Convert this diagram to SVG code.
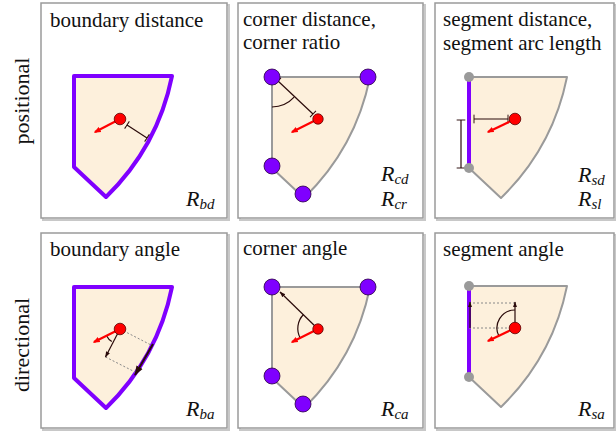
<svg xmlns="http://www.w3.org/2000/svg" width="616" height="433" viewBox="0 0 616 433">
<style>
.bg{fill:#fff}
.panel{fill:#fff;stroke:#9a9a9a;stroke-width:1.5}
.shadow{fill:none;stroke:#c8c8c8;stroke-width:2}
.title{font-family:"Liberation Serif","Times New Roman",serif;font-size:21px;fill:#111}
.side{font-family:"Liberation Serif","Times New Roman",serif;font-size:22px;fill:#111}
.R{font-family:"Liberation Serif","Times New Roman",serif;font-style:italic;font-size:22px;fill:#111}
.sub{font-size:15px}
.region{fill:#fdf0dc;stroke:#9a9a9a;stroke-width:2;stroke-linejoin:round}
.regionP{fill:#fdf0dc;stroke:#7f00ff;stroke-width:4;stroke-linejoin:round}
.seg{stroke:#7f00ff;stroke-width:4;fill:none}
.dot{fill:#ff0000;stroke:#5a0000;stroke-width:0.8}
.corner{fill:#7f00ff;stroke:#2a0040;stroke-width:0.8}
.gray{fill:#9a9a9a}
.vel{stroke:#ff0000;stroke-width:2.2;fill:none;marker-end:url(#ar)}
.dk{stroke:#2a0a0a;stroke-width:1.2;fill:none}
.dist{stroke:#2a0a0a;stroke-width:1.2;fill:none;marker-start:url(#tk);marker-end:url(#tk)}
.dkar{stroke:#2a0a0a;stroke-width:1.2;fill:none;marker-end:url(#ak)}
.dot2{stroke:#888;stroke-width:1;stroke-dasharray:2 2;fill:none}
</style>
<defs>
<marker id="ar" viewBox="0 0 10 10" refX="8" refY="5" markerWidth="3.2" markerHeight="3.2" orient="auto"><path d="M0,1 L10,5 L0,9 z" fill="#ff0000"/></marker>
<marker id="ak" viewBox="0 0 10 10" refX="9" refY="5" markerWidth="5" markerHeight="5" orient="auto"><path d="M0,1.5 L10,5 L0,8.5 z" fill="#2a0a0a"/></marker>
<marker id="tk" viewBox="-1 -5 2 10" refX="0" refY="0" markerWidth="1.6" markerHeight="8" orient="auto" markerUnits="strokeWidth"><path d="M0,-4.5 V4.5" stroke="#2a0a0a" stroke-width="1"/></marker>
<path id="shape" d="M0,0 H98 A233,233 0 0 1 32,121 L0,91 Z"/>
</defs>
<rect class="bg" width="616" height="433"/>

<g id="row-labels">
<text class="side" transform="translate(29,101) rotate(-90)" text-anchor="middle">positional</text>
<text class="side" transform="translate(29,345) rotate(-90)" text-anchor="middle">directional</text>
</g>

<g id="panel-boundary-distance">
<rect class="shadow" x="43" y="5" width="186" height="215"/>
<rect class="panel" x="41" y="3" width="186" height="215"/>
<text class="title" x="50" y="27">boundary distance</text>
<g transform="translate(74,76)">
<use href="#shape" class="regionP"/>
<line class="vel" x1="46" y1="43" x2="21" y2="56"/>
<line class="dist" x1="53" y1="49" x2="73" y2="62"/>
<circle class="dot" cx="46" cy="43" r="5.8"/>
</g>
<text class="R" x="186" y="206">R<tspan class="sub" dy="3">bd</tspan></text>
</g>

<g id="panel-corner-distance">
<rect class="shadow" x="240" y="5" width="185" height="215"/>
<rect class="panel" x="238" y="3" width="185" height="215"/>
<text class="title" x="243" y="26">corner distance,</text>
<text class="title" x="243" y="49">corner ratio</text>
<g transform="translate(272,77)">
<use href="#shape" class="region"/>
<path class="dk" d="M0,30 A30,30 0 0 0 22.1,20.2"/>
<line class="dist" x1="6" y1="4" x2="41" y2="37"/>
<line class="vel" x1="46" y1="42" x2="20" y2="55"/>
<circle class="dot" cx="46" cy="42" r="5.2"/>
<circle class="corner" cx="0" cy="0" r="8"/>
<circle class="corner" cx="96" cy="0" r="8"/>
<circle class="corner" cx="0" cy="89" r="8"/>
<circle class="corner" cx="31" cy="117" r="8"/>
</g>
<text class="R" x="381" y="181">R<tspan class="sub" dy="3">cd</tspan></text>
<text class="R" x="381" y="206">R<tspan class="sub" dy="3">cr</tspan></text>
</g>

<g id="panel-segment-distance">
<rect class="shadow" x="437" y="5" width="179" height="215"/>
<rect class="panel" x="435" y="3" width="179" height="215"/>
<text class="title" x="443" y="26">segment distance,</text>
<text class="title" x="443" y="50">segment arc length</text>
<g transform="translate(469,77)">
<use href="#shape" class="region"/>
<line class="seg" x1="0" y1="0" x2="0" y2="91"/>
<line class="dist" x1="-8" y1="43" x2="-8" y2="91"/>
<line class="dist" x1="5" y1="42" x2="39" y2="42"/>
<line class="vel" x1="46" y1="42" x2="19" y2="55"/>
<circle class="dot" cx="46" cy="42" r="5.8"/>
<circle class="gray" cx="0" cy="0" r="5"/>
<circle class="gray" cx="0" cy="91" r="5"/>
</g>
<text class="R" x="578" y="182">R<tspan class="sub" dy="3">sd</tspan></text>
<text class="R" x="578" y="206">R<tspan class="sub" dy="3">sl</tspan></text>
</g>

<g id="panel-boundary-angle">
<rect class="shadow" x="43" y="235" width="186" height="195"/>
<rect class="panel" x="41" y="233" width="186" height="195"/>
<text class="title" x="50" y="256">boundary angle</text>
<g transform="translate(74,287)">
<use href="#shape" class="regionP"/>
<line class="dot2" x1="46" y1="42" x2="78" y2="58.5"/>
<line class="dot2" x1="31.5" y1="70" x2="62" y2="85.5"/>
<line class="dkar" x1="79" y1="57" x2="61" y2="88" style="stroke-width:2"/>
<path class="dk" d="M32.7,48.9 A15,15 0 0 0 37.8,54.6"/>
<line class="dkar" x1="46" y1="42" x2="31.5" y2="70"/>
<line class="vel" x1="46" y1="42" x2="20" y2="55"/>
<circle class="dot" cx="46" cy="42" r="5.8"/>
</g>
<text class="R" x="186" y="416">R<tspan class="sub" dy="3">ba</tspan></text>
</g>

<g id="panel-corner-angle">
<rect class="shadow" x="240" y="235" width="185" height="195"/>
<rect class="panel" x="238" y="233" width="185" height="195"/>
<text class="title" x="243" y="255">corner angle</text>
<g transform="translate(272,287)">
<use href="#shape" class="region"/>
<path class="dk" d="M31.5,27.5 A20,20 0 0 0 28.3,51.2"/>
<line class="dkar" x1="46" y1="42" x2="8" y2="5"/>
<line class="vel" x1="46" y1="42" x2="20" y2="55"/>
<circle class="dot" cx="46" cy="42" r="5.2"/>
<circle class="corner" cx="0" cy="0" r="8"/>
<circle class="corner" cx="96" cy="0" r="8"/>
<circle class="corner" cx="0" cy="89" r="8"/>
<circle class="corner" cx="31" cy="117" r="8"/>
</g>
<text class="R" x="381" y="416">R<tspan class="sub" dy="3">ca</tspan></text>
</g>

<g id="panel-segment-angle">
<rect class="shadow" x="437" y="235" width="179" height="195"/>
<rect class="panel" x="435" y="233" width="179" height="195"/>
<text class="title" x="443" y="256">segment angle</text>
<g transform="translate(469,286)">
<use href="#shape" class="region"/>
<line class="seg" x1="0" y1="0" x2="0" y2="91"/>
<line class="dot2" x1="0" y1="17" x2="46" y2="17"/>
<line class="dot2" x1="0" y1="42" x2="46" y2="42"/>
<line class="dkar" x1="1" y1="42" x2="1" y2="16"/>
<path class="dk" d="M46,24 A18,18 0 0 0 30,50.3"/>
<line class="dkar" x1="46" y1="42" x2="46" y2="16"/>
<line class="vel" x1="46" y1="42" x2="19" y2="55"/>
<circle class="dot" cx="46" cy="42" r="5.8"/>
<circle class="gray" cx="0" cy="0" r="5"/>
<circle class="gray" cx="0" cy="91" r="5"/>
</g>
<text class="R" x="578" y="416">R<tspan class="sub" dy="3">sa</tspan></text>
</g>
</svg>
